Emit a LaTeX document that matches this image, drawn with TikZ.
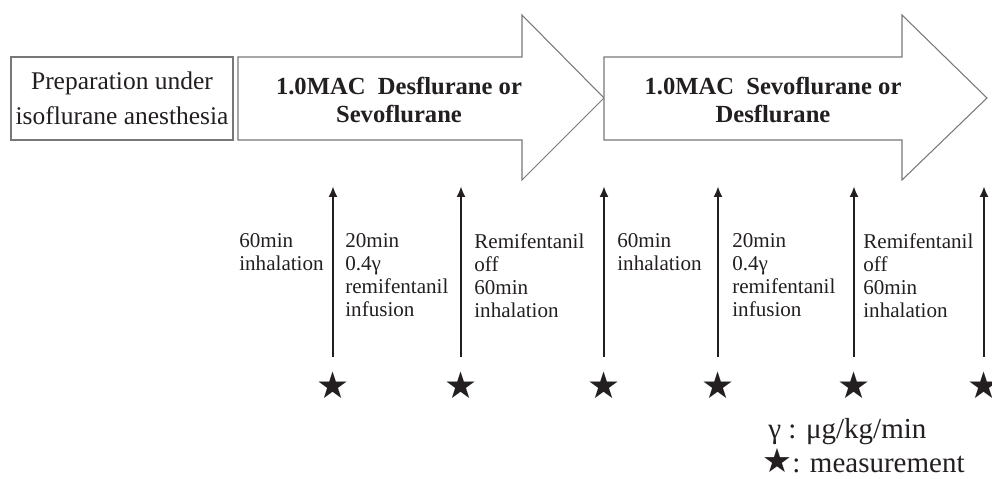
\documentclass[tikz,border=0pt]{standalone}
\usepackage{fontspec}
\setmainfont{Liberation Serif}
\newfontfamily\symfont{DejaVu Sans}
\usetikzlibrary{arrows.meta}

\definecolor{ink}{RGB}{35,31,32}
\definecolor{rim}{RGB}{120,120,120}

\tikzset{
  phase/.style={draw=rim, fill=white, line width=0.6pt},
  phasetext/.style={align=center, inner sep=0pt, text=ink, font=\bfseries\fontsize{14}{16}\selectfont},
  steplabel/.style={anchor=north west, inner sep=0pt, align=left, text=ink, font=\fontsize{12}{13.2}\selectfont},
  tick/.style={draw=ink, line width=1.7pt, -{Latex[length=2.2mm,width=1.8mm]}},
  mark star/.style={inner sep=0pt, text=ink, font=\symfont\fontsize{21}{21}\selectfont},
}

\begin{document}
\begin{tikzpicture}[x=0.02cm,y=-0.02cm]
\useasboundingbox (0,0) rectangle (992,479);

% preparation box
\node[phase, minimum width=4.44cm, minimum height=1.66cm, inner sep=0pt, text=ink,
      align=center, font=\fontsize{14.5}{20}\selectfont] (prep) at (122,98.5)
      {Preparation under\\isoflurane\ anesthesia};

% the two inhalation phases
\draw[phase] (238,57)--(522,57)--(522,15)--(604,98)--(522,180)--(522,140)--(238,140)--cycle;
\node[phasetext] (first) at (399,100) {1.0MAC\ \ Desflurane or\\Sevoflurane};
\draw[phase] (604,57)--(902,57)--(902,15)--(987,98)--(902,180)--(902,140)--(604,140)--cycle;
\node[phasetext] (second) at (773,100) {1.0MAC\ \ Sevoflurane or\\Desflurane};

% time points
\foreach \i/\x in {1/333,2/461,3/604,4/718,5/854,6/984}
{
   \coordinate (foot\i) at (\x,357);
   \coordinate (top\i) at (\x,186);
   \draw[tick] (foot\i)--(top\i);
   \node[mark star] (star\i) at (\x,385) {★};
}

\node[steplabel, anchor=north east] (l0) at (324,233) {60min\\inhalation};
\node[steplabel] (l1) at (345,233) {20min\\0.4γ\\remifentanil\\infusion};
\node[steplabel] (l2) at (474,233) {Remifentanil\\off\\60min\\inhalation};
\node[steplabel] (l3) at (617,233) {60min\\inhalation};
\node[steplabel] (l4) at (732,233) {20min\\0.4γ\\remifentanil\\infusion};
\node[steplabel] (l5) at (863,233) {Remifentanil\\off\\60min\\inhalation};

% legend
\node[anchor=base west, inner sep=0pt, text=ink, font=\fontsize{16.5}{20}\selectfont] (gammakey) at (768,439) {γ : μg/kg/min};
\node[anchor=base west, inner sep=0pt, text=ink, font=\fontsize{16.5}{20}\selectfont] (starkey) at (762,473)
     {{\symfont\fontsize{19}{19}\selectfont ★}: measurement};
\end{tikzpicture}
\end{document}
